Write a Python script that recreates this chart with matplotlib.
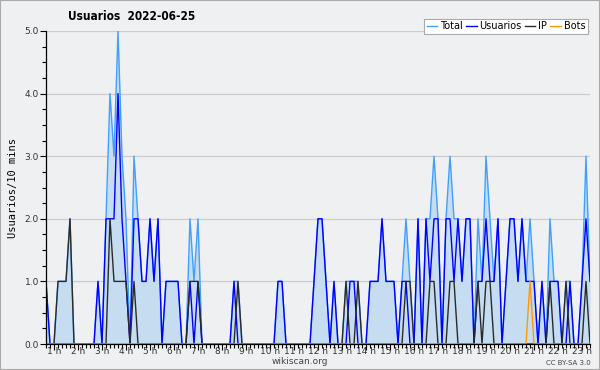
import matplotlib
matplotlib.use("Agg")
import matplotlib.pyplot as plt
import numpy as np
from matplotlib.patches import Rectangle
from matplotlib.ticker import MultipleLocator, FixedLocator

# 10-minute samples
usuarios = [1, 0, 0, 0, 0, 0, 0, 0, 0, 0, 0, 0, 0, 1, 0, 2, 2, 2, 4, 2,
            1, 0, 2, 2, 1, 1, 2, 1, 2, 0, 1, 1, 1, 1, 0, 0, 1, 0, 1, 0,
            0, 0, 0, 0, 0, 0, 0, 1, 0, 0, 0, 0, 0, 0, 0, 0, 0, 0, 1, 1,
            0, 0, 0, 0, 0, 0, 0, 1, 2, 2, 1, 0, 1, 0, 0, 0, 1, 1, 0, 0,
            0, 1, 1, 1, 2, 1, 1, 1, 0, 1, 1, 0, 0, 2, 0, 2, 1, 2, 2, 0,
            2, 2, 1, 2, 1, 2, 2, 0, 1, 1, 2, 1, 1, 2, 0, 1, 2, 2, 1, 2,
            1, 1, 1, 0, 1, 0, 1, 1, 1, 0, 0, 1, 0, 0, 1, 2, 1]
ip = [0, 0, 0, 1, 1, 1, 2, 0, 0, 0, 0, 0, 0, 0, 0, 0, 2, 1, 1, 1,
      1, 0, 1, 0, 0, 0, 0, 0, 0, 0, 0, 0, 0, 0, 0, 0, 1, 1, 1, 0,
      0, 0, 0, 0, 0, 0, 0, 0, 1, 0, 0, 0, 0, 0, 0, 0, 0, 0, 0, 0,
      0, 0, 0, 0, 0, 0, 0, 0, 0, 0, 0, 0, 0, 0, 0, 1, 0, 0, 1, 0,
      0, 0, 0, 0, 0, 0, 0, 0, 0, 0, 1, 1, 0, 0, 0, 0, 1, 1, 0, 0,
      0, 1, 1, 0, 0, 0, 0, 0, 1, 0, 1, 1, 0, 0, 0, 0, 0, 0, 0, 0,
      0, 0, 0, 0, 0, 0, 1, 0, 0, 0, 1, 0, 0, 0, 0, 1, 0]
bots = [0] * 121 + [1] + [0] * 15
total = [1, 0, 0, 1, 1, 1, 2, 0, 0, 0, 0, 0, 0, 1, 0, 2, 4, 3, 5, 3,
         2, 0, 3, 2, 1, 1, 2, 1, 2, 0, 1, 1, 1, 1, 0, 0, 2, 1, 2, 0,
         0, 0, 0, 0, 0, 0, 0, 1, 1, 0, 0, 0, 0, 0, 0, 0, 0, 0, 1, 1,
         0, 0, 0, 0, 0, 0, 0, 1, 2, 2, 1, 0, 1, 0, 0, 1, 1, 1, 1, 0,
         0, 1, 1, 1, 2, 1, 1, 1, 0, 1, 2, 1, 0, 2, 0, 2, 2, 3, 2, 0,
         2, 3, 2, 2, 1, 2, 2, 0, 2, 1, 3, 2, 1, 2, 0, 1, 2, 2, 1, 2,
         1, 2, 1, 0, 1, 0, 2, 1, 1, 0, 1, 1, 0, 0, 1, 3, 1]
hours = list(range(1, 24))
hour_labels = ["%d h" % h for h in hours]

x = np.arange(len(total))
bg = "#eff0f1"

fig = plt.figure(figsize=(6, 3.7), dpi=100, facecolor=bg)
ax = fig.add_axes([46 / 600, 26 / 370, 544 / 600, 313 / 370], facecolor=bg)

ax.fill_between(x, total, color="#c6ddf1", lw=0)
ax.plot(x, total, color="#3fa0ff", lw=1, label="Total")
ax.plot(x, usuarios, color="#0000ff", lw=1, label="Usuarios")
ax.plot(x, ip, color="#2a2a2a", lw=1, label="IP")
ax.plot(x, bots, color="#ff9900", lw=1, label="Bots")

ax.set_xlim(0, len(total) - 1)
ax.set_ylim(0, 5)
ax.set_yticks(range(6))
ax.set_yticklabels(["%.1f" % v for v in range(6)], fontsize=6.5, color="#333333")
ax.yaxis.set_minor_locator(MultipleLocator(0.25))
ax.set_xticks([6 * h - 4 for h in hours])
ax.set_xticklabels(hour_labels, fontsize=6.5, color="#333333")
ax.xaxis.set_minor_locator(FixedLocator(x))
ax.tick_params(axis="both", which="major", length=4, width=0.8, pad=1)
ax.tick_params(axis="x", which="major", pad=-1.5)
ax.tick_params(axis="both", which="minor", length=3, width=0.8)
ax.grid(axis="y", color="#cccccc", lw=0.9)
ax.set_axisbelow(True)
for s in ["top", "right"]:
    ax.spines[s].set_visible(False)
ax.spines["left"].set_linewidth(0.9)
ax.spines["bottom"].set_linewidth(0.9)

ax.set_ylabel("Usuarios/10 mins", family="DejaVu Sans Mono", fontsize=7.5, labelpad=5)
fig.text(0.22, 0.955, "Usuarios  2022-06-25", fontsize=8.5, fontweight="bold",
         stretch="condensed", ha="center", va="center")

leg = ax.legend(loc="upper right", bbox_to_anchor=(1.005, 1.055), ncol=4, fontsize=7,
                handlelength=1.1, handletextpad=0.3, columnspacing=0.3,
                borderpad=0.25, fancybox=False, framealpha=1, edgecolor="#aaaaaa")
leg.get_frame().set_linewidth(0.8)

fig.text(0.5, 0.022, "wikiscan.org", fontsize=6.5, color="#444444", ha="center", va="center")
fig.text(0.985, 0.018, "CC BY-SA 3.0", fontsize=5, color="#444444", ha="right", va="center")
fig.patches.append(Rectangle((0, 0), 1, 1, transform=fig.transFigure, fill=False,
                             edgecolor="#aaaaaa", lw=1.5))

fig.savefig("out.png", dpi=100, facecolor=bg)
